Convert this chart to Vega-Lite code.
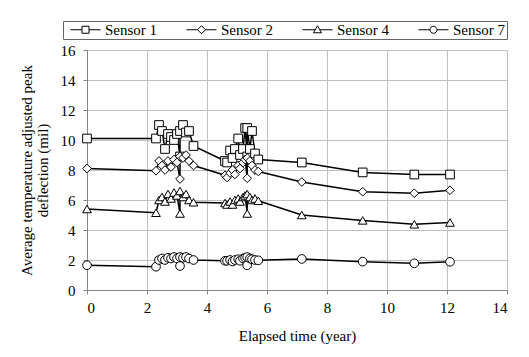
{
  "$schema": "https://vega.github.io/schema/vega-lite/v6.json",
  "width": 420,
  "height": 240,
  "autosize": {"type": "none"},
  "padding": {"left": 87, "top": 50, "right": 22, "bottom": 67},
  "background": "white",
  "config": {
    "view": {"stroke": null},
    "font": "Liberation Serif",
    "style": {"guide-label": {"font": "Liberation Serif", "fontSize": 15, "fill": "black"}, "guide-title": {"font": "Liberation Serif", "fontSize": 15, "fontWeight": "normal", "fill": "black"}},
    "axis": {"labelFont": "Liberation Serif", "titleFont": "Liberation Serif", "labelFontSize": 15, "titleFontSize": 15, "titleFontWeight": "normal", "labelColor": "black", "titleColor": "black"}
  },
  "data": {"values": [
    {"s":"Sensor 1","t":0,"v":10.1,"o":1},{"s":"Sensor 1","t":2.3,"v":10.1,"o":2},{"s":"Sensor 1","t":2.4,"v":11.0,"o":3},{"s":"Sensor 1","t":2.5,"v":10.6,"o":4},{"s":"Sensor 1","t":2.6,"v":9.4,"o":5},{"s":"Sensor 1","t":2.7,"v":10.4,"o":6},{"s":"Sensor 1","t":2.8,"v":10.2,"o":7},{"s":"Sensor 1","t":2.9,"v":10.0,"o":8},{"s":"Sensor 1","t":3.0,"v":10.4,"o":9},{"s":"Sensor 1","t":3.1,"v":8.9,"o":10},{"s":"Sensor 1","t":3.1,"v":10.6,"o":11},{"s":"Sensor 1","t":3.2,"v":11.0,"o":12},{"s":"Sensor 1","t":3.3,"v":10.5,"o":13},{"s":"Sensor 1","t":3.4,"v":10.6,"o":14},{"s":"Sensor 1","t":3.55,"v":9.6,"o":15},
    {"s":"Sensor 1","t":4.6,"v":8.6,"o":16},{"s":"Sensor 1","t":4.67,"v":8.5,"o":17},{"s":"Sensor 1","t":4.77,"v":9.3,"o":18},{"s":"Sensor 1","t":4.85,"v":8.8,"o":19},{"s":"Sensor 1","t":4.93,"v":9.4,"o":20},{"s":"Sensor 1","t":5.04,"v":10.1,"o":21},{"s":"Sensor 1","t":5.1,"v":9.0,"o":22},{"s":"Sensor 1","t":5.2,"v":9.4,"o":23},{"s":"Sensor 1","t":5.27,"v":10.8,"o":24},{"s":"Sensor 1","t":5.34,"v":8.9,"o":25},{"s":"Sensor 1","t":5.34,"v":10.8,"o":26},{"s":"Sensor 1","t":5.43,"v":9.4,"o":27},{"s":"Sensor 1","t":5.5,"v":10.6,"o":28},{"s":"Sensor 1","t":5.6,"v":9.1,"o":29},{"s":"Sensor 1","t":5.71,"v":8.7,"o":30},{"s":"Sensor 1","t":7.16,"v":8.5,"o":31},{"s":"Sensor 1","t":9.19,"v":7.84,"o":32},{"s":"Sensor 1","t":10.91,"v":7.7,"o":33},{"s":"Sensor 1","t":12.1,"v":7.7,"o":34},

    {"s":"Sensor 2","t":0,"v":8.1,"o":1},{"s":"Sensor 2","t":2.3,"v":7.95,"o":2},{"s":"Sensor 2","t":2.4,"v":8.6,"o":3},{"s":"Sensor 2","t":2.5,"v":8.3,"o":4},{"s":"Sensor 2","t":2.6,"v":8.0,"o":5},{"s":"Sensor 2","t":2.7,"v":8.6,"o":6},{"s":"Sensor 2","t":2.8,"v":8.2,"o":7},{"s":"Sensor 2","t":2.9,"v":8.7,"o":8},{"s":"Sensor 2","t":3.0,"v":8.5,"o":9},{"s":"Sensor 2","t":3.1,"v":7.4,"o":10},{"s":"Sensor 2","t":3.1,"v":8.9,"o":11},{"s":"Sensor 2","t":3.2,"v":8.8,"o":12},{"s":"Sensor 2","t":3.3,"v":9.0,"o":13},{"s":"Sensor 2","t":3.4,"v":8.6,"o":14},{"s":"Sensor 2","t":3.55,"v":8.3,"o":15},
    {"s":"Sensor 2","t":4.6,"v":7.65,"o":16},{"s":"Sensor 2","t":4.67,"v":7.5,"o":17},{"s":"Sensor 2","t":4.77,"v":7.8,"o":18},{"s":"Sensor 2","t":4.85,"v":8.0,"o":19},{"s":"Sensor 2","t":4.93,"v":7.7,"o":20},{"s":"Sensor 2","t":5.04,"v":8.3,"o":21},{"s":"Sensor 2","t":5.1,"v":8.1,"o":22},{"s":"Sensor 2","t":5.2,"v":8.5,"o":23},{"s":"Sensor 2","t":5.27,"v":8.7,"o":24},{"s":"Sensor 2","t":5.34,"v":7.45,"o":25},{"s":"Sensor 2","t":5.34,"v":8.8,"o":26},{"s":"Sensor 2","t":5.43,"v":8.6,"o":27},{"s":"Sensor 2","t":5.5,"v":8.3,"o":28},{"s":"Sensor 2","t":5.6,"v":8.0,"o":29},{"s":"Sensor 2","t":5.71,"v":7.9,"o":30},{"s":"Sensor 2","t":7.16,"v":7.2,"o":31},{"s":"Sensor 2","t":9.19,"v":6.55,"o":32},{"s":"Sensor 2","t":10.91,"v":6.45,"o":33},{"s":"Sensor 2","t":12.1,"v":6.65,"o":34},

    {"s":"Sensor 4","t":0,"v":5.4,"o":1},{"s":"Sensor 4","t":2.3,"v":5.15,"o":2},{"s":"Sensor 4","t":2.4,"v":6.0,"o":3},{"s":"Sensor 4","t":2.5,"v":6.2,"o":4},{"s":"Sensor 4","t":2.6,"v":5.9,"o":5},{"s":"Sensor 4","t":2.7,"v":6.4,"o":6},{"s":"Sensor 4","t":2.8,"v":6.1,"o":7},{"s":"Sensor 4","t":2.9,"v":6.5,"o":8},{"s":"Sensor 4","t":3.0,"v":6.3,"o":9},{"s":"Sensor 4","t":3.1,"v":5.1,"o":10},{"s":"Sensor 4","t":3.1,"v":6.6,"o":11},{"s":"Sensor 4","t":3.2,"v":6.2,"o":12},{"s":"Sensor 4","t":3.3,"v":6.4,"o":13},{"s":"Sensor 4","t":3.4,"v":6.0,"o":14},{"s":"Sensor 4","t":3.55,"v":5.85,"o":15},
    {"s":"Sensor 4","t":4.6,"v":5.8,"o":16},{"s":"Sensor 4","t":4.67,"v":5.7,"o":17},{"s":"Sensor 4","t":4.77,"v":5.9,"o":18},{"s":"Sensor 4","t":4.85,"v":5.7,"o":19},{"s":"Sensor 4","t":4.93,"v":6.0,"o":20},{"s":"Sensor 4","t":5.04,"v":6.1,"o":21},{"s":"Sensor 4","t":5.1,"v":5.9,"o":22},{"s":"Sensor 4","t":5.2,"v":6.2,"o":23},{"s":"Sensor 4","t":5.27,"v":6.3,"o":24},{"s":"Sensor 4","t":5.34,"v":5.1,"o":25},{"s":"Sensor 4","t":5.34,"v":6.4,"o":26},{"s":"Sensor 4","t":5.43,"v":6.2,"o":27},{"s":"Sensor 4","t":5.5,"v":6.0,"o":28},{"s":"Sensor 4","t":5.6,"v":6.1,"o":29},{"s":"Sensor 4","t":5.71,"v":5.95,"o":30},{"s":"Sensor 4","t":7.16,"v":5.0,"o":31},{"s":"Sensor 4","t":9.19,"v":4.64,"o":32},{"s":"Sensor 4","t":10.91,"v":4.38,"o":33},{"s":"Sensor 4","t":12.1,"v":4.5,"o":34},

    {"s":"Sensor 7","t":0,"v":1.65,"o":1},{"s":"Sensor 7","t":2.3,"v":1.55,"o":2},{"s":"Sensor 7","t":2.4,"v":2.0,"o":3},{"s":"Sensor 7","t":2.5,"v":2.1,"o":4},{"s":"Sensor 7","t":2.6,"v":2.0,"o":5},{"s":"Sensor 7","t":2.7,"v":2.15,"o":6},{"s":"Sensor 7","t":2.8,"v":2.1,"o":7},{"s":"Sensor 7","t":2.9,"v":2.2,"o":8},{"s":"Sensor 7","t":3.0,"v":2.1,"o":9},{"s":"Sensor 7","t":3.1,"v":1.6,"o":10},{"s":"Sensor 7","t":3.1,"v":2.2,"o":11},{"s":"Sensor 7","t":3.2,"v":2.15,"o":12},{"s":"Sensor 7","t":3.3,"v":2.2,"o":13},{"s":"Sensor 7","t":3.4,"v":2.1,"o":14},{"s":"Sensor 7","t":3.55,"v":2.0,"o":15},
    {"s":"Sensor 7","t":4.6,"v":1.95,"o":16},{"s":"Sensor 7","t":4.67,"v":1.95,"o":17},{"s":"Sensor 7","t":4.77,"v":2.0,"o":18},{"s":"Sensor 7","t":4.85,"v":1.9,"o":19},{"s":"Sensor 7","t":4.93,"v":2.0,"o":20},{"s":"Sensor 7","t":5.04,"v":2.05,"o":21},{"s":"Sensor 7","t":5.1,"v":1.95,"o":22},{"s":"Sensor 7","t":5.2,"v":2.1,"o":23},{"s":"Sensor 7","t":5.27,"v":2.15,"o":24},{"s":"Sensor 7","t":5.34,"v":1.65,"o":25},{"s":"Sensor 7","t":5.34,"v":2.2,"o":26},{"s":"Sensor 7","t":5.43,"v":2.1,"o":27},{"s":"Sensor 7","t":5.5,"v":2.05,"o":28},{"s":"Sensor 7","t":5.6,"v":2.0,"o":29},{"s":"Sensor 7","t":5.71,"v":1.98,"o":30},{"s":"Sensor 7","t":7.16,"v":2.07,"o":31},{"s":"Sensor 7","t":9.19,"v":1.89,"o":32},{"s":"Sensor 7","t":10.91,"v":1.78,"o":33},{"s":"Sensor 7","t":12.1,"v":1.88,"o":34}
  ]},
  "encoding": {
    "x": {"field": "t", "type": "quantitative", "scale": {"domain": [0, 14], "nice": false},
          "axis": {"values": [0,2,4,6,8,10,12,14], "title": "Elapsed time (year)", "titlePadding": 13, "labelPadding": 6,
                   "labelFont": "Liberation Serif", "titleFont": "Liberation Serif",
                   "gridColor": "#c0c0c0", "domainColor": "#868686", "tickColor": "#868686", "tickSize": 4}},
    "y": {"field": "v", "type": "quantitative", "scale": {"domain": [0, 16], "nice": false},
          "axis": {"values": [0,2,4,6,8,10,12,14,16], "title": ["Average temperature adjusted peak", "deflection (mil)"], "titlePadding": 10, "labelPadding": 8, "titleLineHeight": 16,
                   "labelFont": "Liberation Serif", "titleFont": "Liberation Serif",
                   "gridColor": "#c0c0c0", "domainColor": "#868686", "tickColor": "#868686", "tickSize": 4}}
  },
  "layer": [
    {
      "mark": {"type": "line", "color": "black", "strokeWidth": 1.5},
      "encoding": {"detail": {"field": "s"}, "order": {"field": "o"}}
    },
    {
      "mark": {"type": "point", "fill": "white", "stroke": "black", "strokeWidth": 1, "opacity": 1, "size": 75, "filled": false},
      "encoding": {
        "shape": {"field": "s", "type": "nominal",
          "scale": {"domain": ["Sensor 1", "Sensor 2", "Sensor 4", "Sensor 7"], "range": ["square", "diamond", "triangle-up", "circle"]},
          "legend": null
        }
      }
    },
    {
      "mark": {"type": "point", "opacity": 0, "size": 100},
      "encoding": {
        "shape": {"field": "s", "type": "nominal",
          "scale": {"domain": ["Sensor 1", "Sensor 2", "Sensor 4", "Sensor 7"],
            "range": [
              "M-1,0H1.3M2.7,0H5M1.3,-0.7H2.7V0.7H1.3Z",
              "M-1,0H1.2M2.8,0H5M2,-0.8L2.8,0L2,0.8L1.2,0Z",
              "M-1,0H1.54M2.46,0H5M2,-0.8L2.8,0.6L1.2,0.6Z",
              "M-1,0H1.3M2.7,0H5M1.3,0A0.7,0.7 0 1,0 2.7,0A0.7,0.7 0 1,0 1.3,0Z"
            ]},
          "legend": {
            "orient": "none", "legendX": -24, "legendY": -29, "direction": "horizontal",
            "title": null, "strokeColor": "#666666", "padding": 1, "fillColor": "white",
            "labelFont": "Liberation Serif", "labelFontSize": 15, "labelColor": "black",
            "symbolSize": 100, "symbolStrokeColor": "black", "symbolFillColor": "white", "symbolOpacity": 1, "symbolStrokeWidth": 1,
            "symbolOffset": 4, "labelOffset": 22, "columnPadding": 22
          }
        }
      }
    }
  ],
  "resolve": {"scale": {"shape": "independent"}}
}
